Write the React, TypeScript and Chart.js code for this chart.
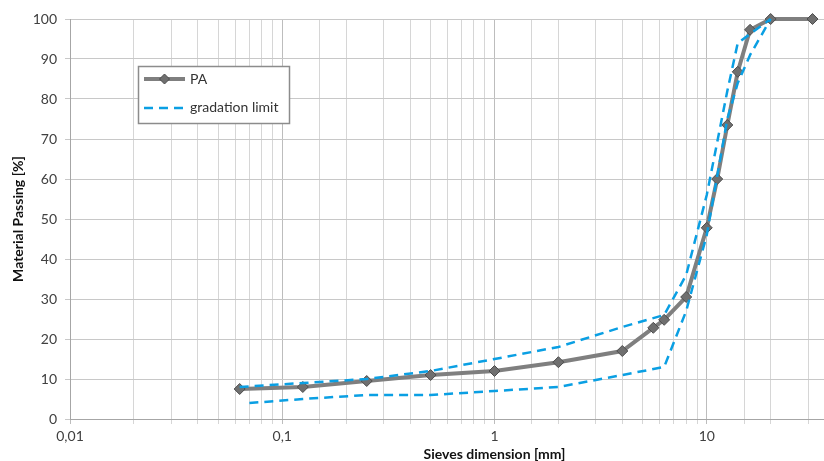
import { useEffect, useRef } from "react";
import { Chart, registerables } from "chart.js";

Chart.register(...registerables);

// ---- data ----
const paSieves = [0.063, 0.125, 0.25, 0.5, 1, 2, 4, 5.6, 6.3, 8, 10, 11.2, 12.5, 14, 16, 20, 31.5];
const paPassing = [7.5, 8, 9.5, 11, 12, 14.2, 17, 22.8, 24.8, 30.5, 47.8, 60, 73.5, 86.8, 97.3, 100, 100];

const upperSieves = [0.063, 0.125, 0.25, 0.5, 1, 2, 4, 6.3, 8, 10, 12.5, 14, 20];
const upperPassing = [8, 9, 10, 12, 15, 18, 23, 26, 36, 56, 82, 94, 100];

const lowerSieves = [0.07, 0.125, 0.25, 0.5, 1, 2, 4, 6.3, 8, 10, 12.5, 14, 16, 20];
const lowerPassing = [4, 5, 6, 6, 7, 8, 11, 13, 27, 46, 75, 84, 91, 100];

const xTickLabels: Record<string, string> = { "0.01": "0,01", "0.1": "0,1", "1": "1", "10": "10" };
const legendLabels = ["PA", "gradation limit"];

const FONT = "Lato, 'Open Sans', sans-serif";
const GRAY = "#7f7f7f";
const BLUE = "#0a9fe3";

const zip = (xs: number[], ys: number[]) => xs.map((x, i) => ({ x, y: ys[i] }));

const legendPlugin = {
  id: "boxLegend",
  afterDatasetsDraw(chart: any) {
    const ctx = chart.ctx as CanvasRenderingContext2D;
    ctx.save();
    const bx = 138.5, by = 66.5, bw = 151, bh = 57;
    ctx.fillStyle = "#ffffff";
    ctx.fillRect(bx, by, bw, bh);
    ctx.strokeStyle = "#8c8c8c";
    ctx.lineWidth = 1.5;
    ctx.strokeRect(bx, by, bw, bh);
    // PA
    ctx.strokeStyle = GRAY;
    ctx.lineWidth = 4;
    ctx.setLineDash([]);
    ctx.beginPath();
    ctx.moveTo(144, 79);
    ctx.lineTo(185, 79);
    ctx.stroke();
    ctx.fillStyle = "#6f6f6f";
    ctx.strokeStyle = "#4d4d4d";
    ctx.lineWidth = 1;
    ctx.beginPath();
    ctx.moveTo(164.5, 74);
    ctx.lineTo(169.5, 79);
    ctx.lineTo(164.5, 84);
    ctx.lineTo(159.5, 79);
    ctx.closePath();
    ctx.fill();
    ctx.stroke();
    // gradation limit
    ctx.strokeStyle = BLUE;
    ctx.lineWidth = 2.5;
    ctx.setLineDash([9, 6]);
    ctx.beginPath();
    ctx.moveTo(144, 108);
    ctx.lineTo(186, 108);
    ctx.stroke();
    ctx.setLineDash([]);
    ctx.fillStyle = "#333333";
    ctx.font = `14px ${FONT}`;
    ctx.textBaseline = "middle";
    ctx.textAlign = "left";
    ctx.fillText(legendLabels[0], 190, 79);
    ctx.fillText(legendLabels[1], 190, 107);
    ctx.restore();
  },
};

export default function App() {
  const ref = useRef<HTMLCanvasElement | null>(null);

  useEffect(() => {
    if (!ref.current) return;
    const chart = new Chart(ref.current, {
      type: "line",
      data: {
        datasets: [
          {
            label: "gradation limit",
            data: zip(upperSieves, upperPassing),
            borderColor: BLUE,
            borderWidth: 2.5,
            borderDash: [9, 6],
            pointRadius: 0,
            fill: false,
            tension: 0,
          },
          {
            label: "gradation limit",
            data: zip(lowerSieves, lowerPassing),
            borderColor: BLUE,
            borderWidth: 2.5,
            borderDash: [9, 6],
            pointRadius: 0,
            fill: false,
            tension: 0,
          },
          {
            label: "PA",
            data: zip(paSieves, paPassing),
            borderColor: GRAY,
            borderWidth: 4,
            pointStyle: "rectRot",
            pointRadius: 5.5,
            pointBackgroundColor: "#6f6f6f",
            pointBorderColor: "#4d4d4d",
            pointBorderWidth: 1,
            fill: false,
            tension: 0,
          },
        ],
      },
      options: {
        animation: false,
        responsive: false,
        parsing: false as any,
        clip: false as any,
        layout: { padding: { top: 19, right: 11, left: 0, bottom: 0 } },
        plugins: {
          legend: { display: false },
          tooltip: { enabled: false },
        },
        scales: {
          x: {
            type: "logarithmic",
            min: 0.01,
            max: 100,
            afterFit: (s: any) => {
              s.height = 42;
            },
            afterBuildTicks: (s: any) => {
              s.ticks = s.ticks.filter((t: any) => t.value >= 0.01 && t.value <= 100);
            },
            ticks: {
              autoSkip: false,
              maxRotation: 0,
              padding: 4,
              color: "#404040",
              font: { family: FONT, size: 14 },
              callback: (v: any) => {
                const key = String(Number(Number(v).toPrecision(6)));
                return xTickLabels[key] ?? "";
              },
            },
            grid: {
              color: (c: any) => {
                const v = c.tick ? c.tick.value : 0;
                const l = Math.log10(v);
                return Math.abs(l - Math.round(l)) < 1e-6 ? "#bdbdbd" : "#d6d6d6";
              },
              lineWidth: 1,
              tickLength: 5,
            },
            border: { color: "#a6a6a6", width: 1 },
            title: {
              display: true,
              text: "Sieves dimension [mm]",
              color: "#111111",
              font: { family: FONT, size: 14, weight: "bold", lineHeight: 1 },
              padding: { top: 0, bottom: 0 },
            },
          },
          y: {
            min: 0,
            max: 100,
            afterFit: (s: any) => {
              s.width = 70;
            },
            ticks: {
              stepSize: 10,
              padding: 8,
              color: "#404040",
              font: { family: FONT, size: 14 },
            },
            grid: { color: "#c8c8c8", lineWidth: 1, tickLength: 5 },
            border: { color: "#a6a6a6", width: 1 },
            title: {
              display: true,
              text: "Material Passing [%]",
              color: "#111111",
              font: { family: FONT, size: 14, weight: "bold", lineHeight: 1.2 },
              padding: { top: 10, bottom: 0 },
            },
          },
        },
      },
      plugins: [legendPlugin],
    } as any);
    return () => chart.destroy();
  }, []);

  return (
    <div style={{ position: "fixed", left: 0, top: 0, width: 824, height: 461, overflow: "hidden", background: "#fff" }}>
      <canvas ref={ref} width={930} height={461} style={{ width: 930, height: 461, display: "block" }} />
    </div>
  );
}
